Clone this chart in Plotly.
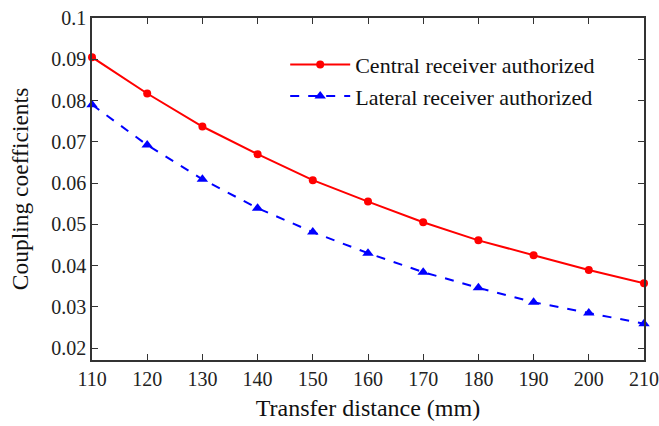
import plotly.graph_objects as go

distance = [110, 120, 130, 140, 150, 160, 170, 180, 190, 200, 210]
central = [0.0905, 0.0817, 0.0737, 0.0670, 0.0607, 0.0555, 0.0505, 0.0461, 0.0425, 0.0389, 0.0357]
lateral = [0.0790, 0.0692, 0.0609, 0.0539, 0.0481, 0.0430, 0.0384, 0.0346, 0.0311, 0.0285, 0.0259]

font = "Liberation Serif, Times New Roman, serif"

fig = go.Figure()
fig.add_trace(go.Scatter(
    x=distance, y=central, mode="lines+markers", name="Central receiver authorized",
    line=dict(color="#ff0000", width=2), marker=dict(symbol="circle", size=8, color="#ff0000"),
    cliponaxis=False))
fig.add_trace(go.Scatter(
    x=distance, y=lateral, mode="lines+markers", name="Lateral receiver authorized",
    line=dict(color="#0000ff", width=2, dash="dash"),
    marker=dict(symbol="triangle-up", size=10, color="#0000ff"),
    cliponaxis=False))

axis_common = dict(
    showline=True, linecolor="#333333", linewidth=1.5, mirror="ticks",
    ticks="inside", ticklen=6, tickcolor="#333333", tickwidth=1.2,
    showgrid=False, zeroline=False, automargin=False,
    tickfont=dict(family=font, size=20, color="#222222"),
)

fig.update_xaxes(
    range=[110, 210], tickmode="array", tickvals=distance,
    ticktext=[str(v) for v in distance],
    title=dict(text="Transfer distance (mm)", font=dict(family=font, size=24, color="#111111"), standoff=10),
    **axis_common)
fig.update_yaxes(
    range=[0.0171, 0.1], tickmode="array",
    tickvals=[0.02, 0.03, 0.04, 0.05, 0.06, 0.07, 0.08, 0.09, 0.1],
    ticktext=["0.02", "0.03", "0.04", "0.05", "0.06", "0.07", "0.08", "0.09", "0.1"],
    title=dict(text="Coupling coefficients", font=dict(family=font, size=23.5, color="#111111"), standoff=16),
    **axis_common)

fig.update_layout(
    width=659, height=426,
    margin=dict(l=92, r=15, t=18, b=66),
    plot_bgcolor="white", paper_bgcolor="white",
    legend=dict(x=0.35, y=0.925, xanchor="left", yanchor="top",
                font=dict(family=font, size=22, color="#111111"),
                bgcolor="rgba(0,0,0,0)", tracegroupgap=0, itemwidth=60),
    showlegend=True,
)

fig.write_html("out.html")
